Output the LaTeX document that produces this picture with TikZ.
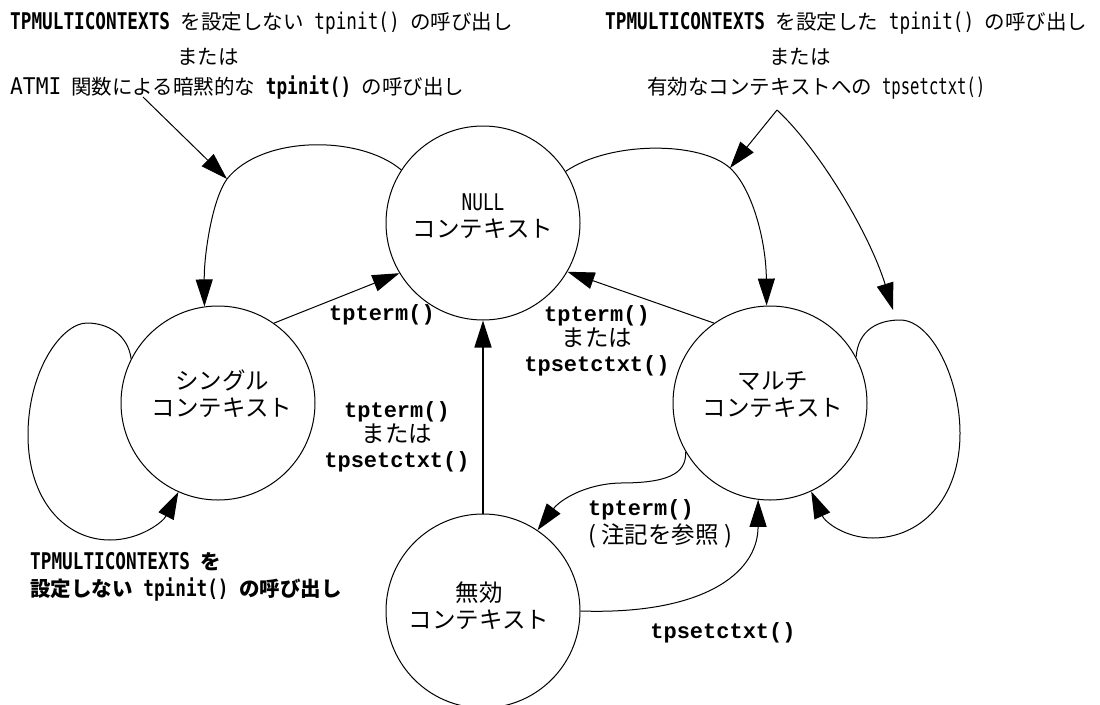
\documentclass[tikz,border=0pt]{standalone}
\usepackage{fontspec}
\usepackage{graphicx}
\setmainfont{Noto Sans CJK JP}
\newfontfamily\jpfont{Noto Sans CJK JP}
\newfontfamily\halfwfont[FakeStretch=0.77]{DejaVu Sans Mono}
\newfontfamily\courfont{Liberation Mono}
\usetikzlibrary{arrows.meta}
\newcommand\hw[1]{{\halfwfont\fontsize{23}{28}\selectfont #1}}
\newcommand\hwb[1]{{\bfseries\hw{#1}}}
\newcommand\jm[1]{{\jpfont\mdseries\fontsize{23.5}{25}\selectfont #1}}
\tikzset{
  state/.style={draw, circle, line width=1pt, minimum size=194pt, inner sep=0pt},
  ctxt/.style={font=\jpfont\fontsize{23.5}{27}\selectfont, align=center, inner sep=0pt},
  conn/.style={line width=1pt, -{Triangle[length=27pt,width=17pt]}},
  clab/.style={font=\courfont\bfseries\fontsize{22}{25}\selectfont, align=center, inner sep=0pt},
  jtxt/.style={font=\jpfont\fontsize{20.5}{27}\selectfont, inner sep=0pt},
}
\begin{document}
\begin{tikzpicture}[x=1pt, y=-1pt]
\useasboundingbox (0,0) rectangle (1100,704);
% states
\node[state] (null) at (483,223) {};
\node[state] (single) at (218,403) {};
\node[state] (multi) at (770,403) {};
\node[state] (invalid) at (483,611) {};
\node[ctxt] (nullT) at (483,216) {\hw{NULL}\\コンテキスト};
\node[ctxt] (singleT) at (222,394) {シングル\\コンテキスト};
\node[ctxt] (multiT) at (773,395) {マルチ\\コンテキスト};
\node[ctxt] (invalidT) at (479,606) {無効\\コンテキスト};
% junctions
\coordinate (j1) at (227,179);
\coordinate (j2) at (730,168);
\coordinate (t1) at (143,97);
\coordinate (t2) at (777,110);
\coordinate (j3) at (893,310);
% connectors
\draw[conn] (null.147) .. controls (360,135) and (262,135) .. (j1)
  .. controls (212,200) and (204,255) .. (single.98);
\draw[conn] (t1) -- (j1);
\draw[conn] (single.55) -- (null.211);
\draw[conn] (single.153) .. controls (128,335) and (108,323) .. (87,323)
  .. controls (62,323) and (28,370) .. (28,435)
  .. controls (28,500) and (65,540) .. (110,540)
  .. controls (140,540) and (163,522) .. (single.246);
\draw[conn] (null.32) .. controls (610,141) and (700,141) .. (j2)
  .. controls (752,188) and (766,240) .. (multi.92);
\draw[conn] (t2) -- (j2);
\draw[conn] (t2) .. controls (820,150) and (870,235) .. (j3);
\draw[conn] (multi.125) -- (null.330);
\draw[conn] (multi.28) .. controls (858,330) and (878,320) .. (900,320)
  .. controls (932,320) and (960,380) .. (960,433)
  .. controls (960,500) and (920,538) .. (873,538)
  .. controls (845,538) and (825,522) .. (multi.295);
\draw[conn, line width=1.6pt] (invalid.north) -- (null.south);
\draw[conn] (multi.210) .. controls (687,475) and (665,483) .. (620,483)
  .. controls (585,484) and (560,500) .. (invalid.56);
\draw[conn] (invalid.0) .. controls (700,615) and (758,575) .. (multi.263);
% connector labels
\node[clab] (l1) at (382,315) {tpterm()};
\node[clab] (l2) at (397,437) {tpterm()\\\jm{または}\\tpsetctxt()};
\node[clab] (l3) at (597,341) {tpterm()\\\jm{または}\\tpsetctxt()};
\node[clab, align=left, anchor=west, font=\courfont\bfseries\fontsize{22}{28}\selectfont] (l4) at (588,524) {tpterm()\\\jm{( 注記を参照 )}};
\node[clab] (l5) at (723,633) {tpsetctxt()};
% top texts
\node[jtxt, anchor=west] (tl1) at (10,23) {\hwb{TPMULTICONTEXTS }を設定しない\hw{ tpinit() }の呼び出し};
\node[jtxt] (tl2) at (208,57) {または};
\node[jtxt, anchor=west] (tl3) at (10,88) {\scalebox{1.2}[1]{\hw{ATMI}}\hspace{10pt}関数による暗黙的な\hwb{ tpinit() }の呼び出し};
\node[jtxt, anchor=west] (tr1) at (605,23) {\hwb{TPMULTICONTEXTS }を設定した\hw{ tpinit() }の呼び出し};
\node[jtxt] (tr2) at (800,57) {または};
\node[jtxt, anchor=west] (tr3) at (647,88) {有効なコンテキストへの\hspace{10pt}\scalebox{0.88}[1]{\hw{tpsetctxt()}}};
% bottom-left text
\node[jtxt, anchor=west, align=left, font=\jpfont\bfseries\fontsize{20.5}{27}\selectfont] (bl) at (30,577) {\hw{TPMULTICONTEXTS }を\\設定しない\hw{ tpinit() }の呼び出し};
\end{tikzpicture}
\end{document}
